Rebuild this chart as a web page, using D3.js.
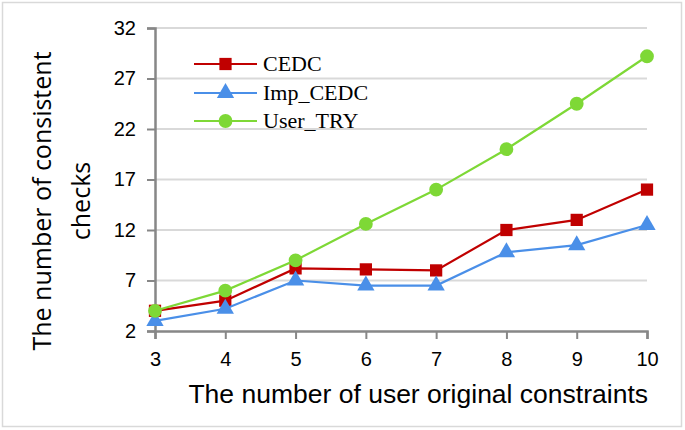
<!DOCTYPE html>
<html><head><meta charset="utf-8">
<script src="https://cdn.jsdelivr.net/npm/d3@7"></script>
<style>body{margin:0;background:#fff}svg{display:block}</style>
</head><body>
<script>
const categories = [3, 4, 5, 6, 7, 8, 9, 10];
const cedc = [4.0, 5.0, 8.2, 8.1, 8.0, 12.0, 13.0, 16.0];
const impCedc = [3.0, 4.2, 7.0, 6.5, 6.5, 9.8, 10.5, 12.5];
const userTry = [4.0, 6.0, 9.0, 12.6, 16.0, 20.0, 24.5, 29.2];
const yTicks = [2, 7, 12, 17, 22, 27, 32];
const seriesNames = ["CEDC", "Imp_CEDC", "User_TRY"];
const colors = ["#c00000", "#4a8fe8", "#7ed836"];
const symbols = [d3.symbolSquare, d3.symbolTriangle, d3.symbolCircle];

const W = 685, H = 430;
const svg = d3.select("body").append("svg").attr("width", W).attr("height", H);
svg.append("rect").attr("x", 2.5).attr("y", 2.5).attr("width", 679).attr("height", 424)
  .attr("fill", "#fff").attr("stroke", "#d9d9d9").attr("stroke-width", 1.5);

const x = d3.scaleLinear().domain([3, 10]).range([155, 647]);
const y = d3.scaleLinear().domain([2, 32]).range([331, 28]);

// gridlines
svg.append("g").selectAll("line").data(yTicks.slice(1)).join("line")
  .attr("x1", x(3)).attr("x2", x(10)).attr("y1", d => y(d)).attr("y2", d => y(d))
  .attr("stroke", "#d9d9d9").attr("stroke-width", 2);

const tickFont = "Liberation Sans, Arial, sans-serif";
// y axis
const yAxis = svg.append("g").attr("transform", `translate(${x(3)},0)`)
  .call(d3.axisLeft(y).tickValues(yTicks).tickSize(8).tickPadding(11).tickFormat(d3.format("d")));
yAxis.select(".domain").attr("stroke", "#878787").attr("stroke-width", 2.5);
yAxis.selectAll(".tick line").attr("stroke", "#878787").attr("stroke-width", 2);
yAxis.selectAll("text").attr("font-family", tickFont).attr("font-size", 20).attr("fill", "#000");

// x axis
const xAxis = svg.append("g").attr("transform", `translate(0,${y(2)})`)
  .call(d3.axisBottom(x).tickValues(categories).tickSize(8).tickPadding(13).tickFormat(d3.format("d")));
xAxis.select(".domain").attr("stroke", "#878787").attr("stroke-width", 2.5);
xAxis.selectAll(".tick line").attr("stroke", "#878787").attr("stroke-width", 2);
xAxis.selectAll("text").attr("font-family", tickFont).attr("font-size", 20).attr("fill", "#000");

const allSeries = [cedc, impCedc, userTry];
const line = d3.line().x((d, i) => x(categories[i])).y(d => y(d));
const sizes = [150, 130, 150];

allSeries.forEach((vals, si) => {
  svg.append("path").datum(vals).attr("d", line).attr("fill", "none")
    .attr("stroke", colors[si]).attr("stroke-width", 2.2);
  svg.append("g").selectAll("path").data(vals).join("path")
    .attr("transform", (d, i) => `translate(${x(categories[i])},${y(d)})`)
    .attr("d", d3.symbol().type(symbols[si]).size(sizes[si]))
    .attr("fill", colors[si]);
});

// legend
const legY = [64, 93, 121];
seriesNames.forEach((n, i) => {
  const g = svg.append("g");
  g.append("line").attr("x1", 194).attr("x2", 257).attr("y1", legY[i]).attr("y2", legY[i])
    .attr("stroke", colors[i]).attr("stroke-width", 2.2);
  g.append("path").attr("transform", `translate(225.5,${legY[i]})`)
    .attr("d", d3.symbol().type(symbols[i]).size(sizes[i])).attr("fill", colors[i]);
  g.append("text").attr("x", 263).attr("y", legY[i] + 7).text(n)
    .attr("font-family", "Liberation Serif, serif").attr("font-size", 22).attr("fill", "#000");
});

// axis titles
svg.append("text").attr("x", 648).attr("y", 403).attr("text-anchor", "end")
  .attr("font-family", "Liberation Sans, Arial, sans-serif").attr("font-size", 26.5)
  .attr("fill", "#000").text("The number of user original constraints");

const yl = svg.append("text").attr("transform", "translate(0,201) rotate(-90)")
  .attr("text-anchor", "middle")
  .attr("font-family", "Open Sans, sans-serif").attr("font-size", 25).attr("fill", "#000");
yl.append("tspan").attr("x", 0).attr("y", 51).text("The number of consistent");
yl.append("tspan").attr("x", 0).attr("y", 90).text("checks");
</script>
</body></html>
